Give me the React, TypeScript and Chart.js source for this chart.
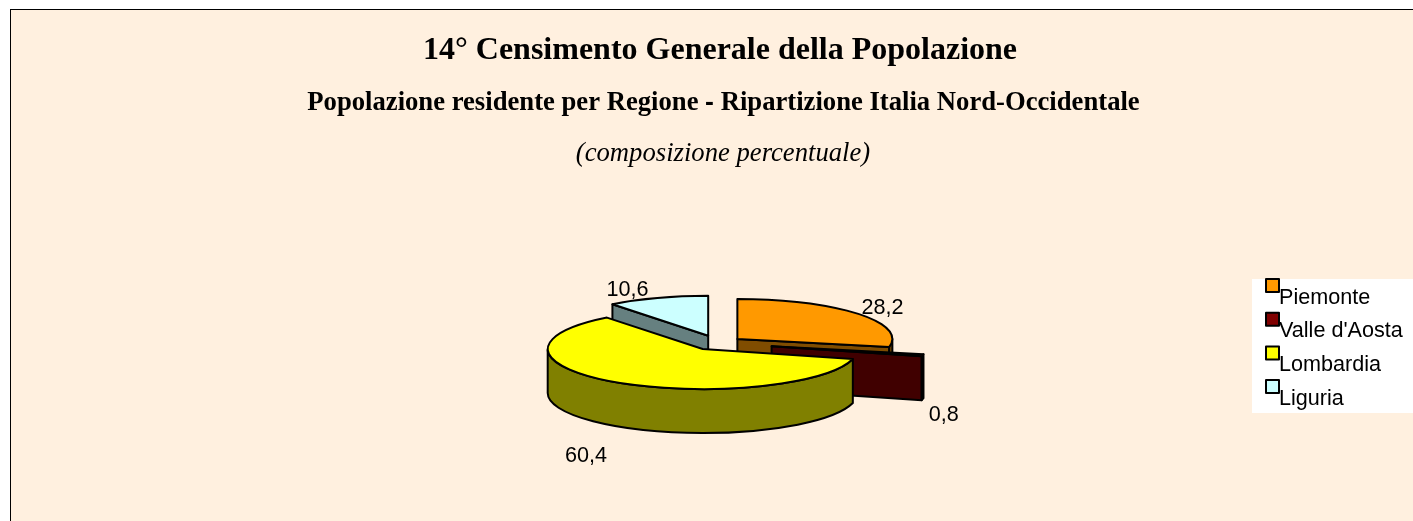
import { useEffect, useRef } from "react";
import { Chart, registerables } from "chart.js";

Chart.register(...registerables);

const regions = ["Piemonte", "Valle d'Aosta", "Lombardia", "Liguria"];
const shares = [28.2, 0.8, 60.4, 10.6];
const faceColors = ["#FF9900", "#800000", "#FFFF00", "#CCFFFF"];
const wallColors = ["#804D00", "#400000", "#808000", "#668080"];
// Chart.js divides the arc offset by 4 when drawing
const sliceOffsets = [100, 220, 112, 120];
const labelShifts = [[25, -6], [21, 60], [-32, 73], [-30, -8]];

const titleMain = "14° Censimento Generale della Popolazione";
const titleSubLeft = "Popolazione residente per Regione ";
const titleSubDash = "-";
const titleSubRight = " Ripartizione Italia Nord-Occidentale";
const titleNote = "(composizione percentuale)";

const WIDTH = 1413;
const HEIGHT = 521;
const PAPER = "#FFF0DF";
const SQUASH = 40 / 155;
const DEPTH = 44;
const SERIF_BOLD_SUB = 'bold 26.67px "Liberation Serif"';
const SANS_BOLD_SUB = 'bold 26.67px "Liberation Sans"';
const SANS_TEXT = '21.6px "Liberation Sans"';

const pie3d = {
  id: "pie3d",
  beforeDraw(chart: any) {
    const { ctx } = chart;
    ctx.save();
    ctx.fillStyle = "#FFFFFF";
    ctx.fillRect(0, 0, WIDTH, HEIGHT);
    ctx.fillStyle = PAPER;
    ctx.fillRect(10, 9, WIDTH - 10, HEIGHT - 9);
    ctx.fillStyle = "#000000";
    ctx.fillRect(10, 9, WIDTH - 10, 1);
    ctx.fillRect(10, 9, 1, HEIGHT - 9);

    ctx.textBaseline = "alphabetic";
    ctx.textAlign = "center";
    ctx.font = 'bold 32px "Liberation Serif"';
    ctx.fillText(titleMain, 720, 59);
    ctx.font = 'italic 26.67px "Liberation Serif"';
    ctx.fillText(titleNote, 723, 161);

    ctx.textAlign = "left";
    ctx.font = SERIF_BOLD_SUB;
    const wLeft = ctx.measureText(titleSubLeft).width;
    const wRight = ctx.measureText(titleSubRight).width;
    ctx.font = SANS_BOLD_SUB;
    const wDash = ctx.measureText(titleSubDash).width;
    let x = 723.5 - (wLeft + wDash + wRight) / 2;
    ctx.font = SERIF_BOLD_SUB;
    ctx.fillText(titleSubLeft, x, 110);
    x += wLeft;
    ctx.font = SANS_BOLD_SUB;
    ctx.fillText(titleSubDash, x, 110);
    x += wDash;
    ctx.font = SERIF_BOLD_SUB;
    ctx.fillText(titleSubRight, x, 110);
    ctx.restore();
  },
  beforeDatasetDraw(chart: any) {
    const { ctx } = chart;
    const meta = chart.getDatasetMeta(0);
    const slices = meta.data.map((el: any, i: number) => {
      const mid = (el.startAngle + el.endAngle) / 2;
      const off = (el.options.offset || 0) / 4;
      const cx = el.x + Math.cos(mid) * off;
      const cy = el.y + Math.sin(mid) * off * SQUASH;
      return { el, i, mid, cx, cy, r: el.outerRadius, ry: el.outerRadius * SQUASH };
    });
    ctx.save();
    ctx.lineWidth = 2;
    ctx.lineJoin = "round";
    ctx.strokeStyle = "#000000";
    const paint = (fill: string) => {
      ctx.fillStyle = fill;
      ctx.fill();
      ctx.stroke();
    };
    const cutFace = (s: any, a: number, fill: string) => {
      const px = s.cx + Math.cos(a) * s.r;
      const py = s.cy + Math.sin(a) * s.ry;
      ctx.beginPath();
      ctx.moveTo(s.cx, s.cy);
      ctx.lineTo(px, py);
      ctx.lineTo(px, py + DEPTH);
      ctx.lineTo(s.cx, s.cy + DEPTH);
      ctx.closePath();
      paint(fill);
    };
    [...slices].sort((a: any, b: any) => a.cy - b.cy).forEach((s: any) => {
      const { startAngle, endAngle } = s.el;
      const wall = wallColors[s.i];
      if (Math.cos(endAngle) > 1e-6) cutFace(s, endAngle, wall);
      if (Math.cos(startAngle) < -1e-6) cutFace(s, startAngle, wall);
      const a0 = Math.max(startAngle, 0);
      const a1 = Math.min(endAngle, Math.PI);
      if (a1 > a0) {
        ctx.beginPath();
        ctx.ellipse(s.cx, s.cy, s.r, s.ry, 0, a0, a1, false);
        ctx.ellipse(s.cx, s.cy + DEPTH, s.r, s.ry, 0, a1, a0, true);
        ctx.closePath();
        paint(wall);
      }
      ctx.beginPath();
      ctx.moveTo(s.cx, s.cy);
      ctx.ellipse(s.cx, s.cy, s.r, s.ry, 0, startAngle, endAngle, false);
      ctx.closePath();
      paint(s.el.options.backgroundColor);
    });

    ctx.fillStyle = "#000000";
    ctx.font = SANS_TEXT;
    ctx.textAlign = "center";
    ctx.textBaseline = "middle";
    slices.forEach((s: any) => {
      const ex = s.cx + Math.cos(s.mid) * s.r + labelShifts[s.i][0];
      const ey = s.cy + Math.sin(s.mid) * s.ry + labelShifts[s.i][1];
      ctx.fillText(chart.data.datasets[0].data[s.i].toFixed(1).replace(".", ","), ex, ey);
    });
    ctx.restore();
    return false;
  },
  afterDraw(chart: any) {
    const { ctx } = chart;
    ctx.save();
    ctx.fillStyle = "#FFFFFF";
    ctx.fillRect(1252, 279, WIDTH - 1252, 134);
    ctx.textAlign = "left";
    ctx.textBaseline = "alphabetic";
    ctx.font = SANS_TEXT;
    chart.data.labels.forEach((label: string, i: number) => {
      const top = 279 + i * 33.7;
      ctx.fillStyle = chart.data.datasets[0].backgroundColor[i];
      ctx.strokeStyle = "#000000";
      ctx.lineWidth = 2;
      ctx.lineJoin = "round";
      ctx.beginPath();
      ctx.rect(1266, top, 13, 13);
      ctx.fill();
      ctx.stroke();
      ctx.fillStyle = "#000000";
      ctx.fillText(label, 1279, top + 24.5);
    });
    ctx.restore();
  },
};

export default function App() {
  const ref = useRef<HTMLCanvasElement | null>(null);
  useEffect(() => {
    document.body.style.margin = "0";
    const chart = new Chart(ref.current as HTMLCanvasElement, {
      type: "pie",
      data: {
        labels: regions,
        datasets: [
          {
            data: shares,
            backgroundColor: faceColors,
            offset: sliceOffsets,
            borderWidth: 0,
          },
        ],
      },
      options: {
        responsive: false,
        animation: false,
        radius: 155,
        layout: { padding: { left: 23, right: 0, top: 165, bottom: 0 } },
        plugins: {
          legend: { display: false },
          title: { display: false },
          tooltip: { enabled: false },
        },
      },
      plugins: [pie3d],
    } as any);
    return () => chart.destroy();
  }, []);
  return (
    <div style={{ position: "absolute", left: 0, top: 0, width: WIDTH, height: HEIGHT, overflow: "hidden" }}>
      <canvas ref={ref} width={WIDTH} height={HEIGHT} style={{ display: "block" }} />
    </div>
  );
}
